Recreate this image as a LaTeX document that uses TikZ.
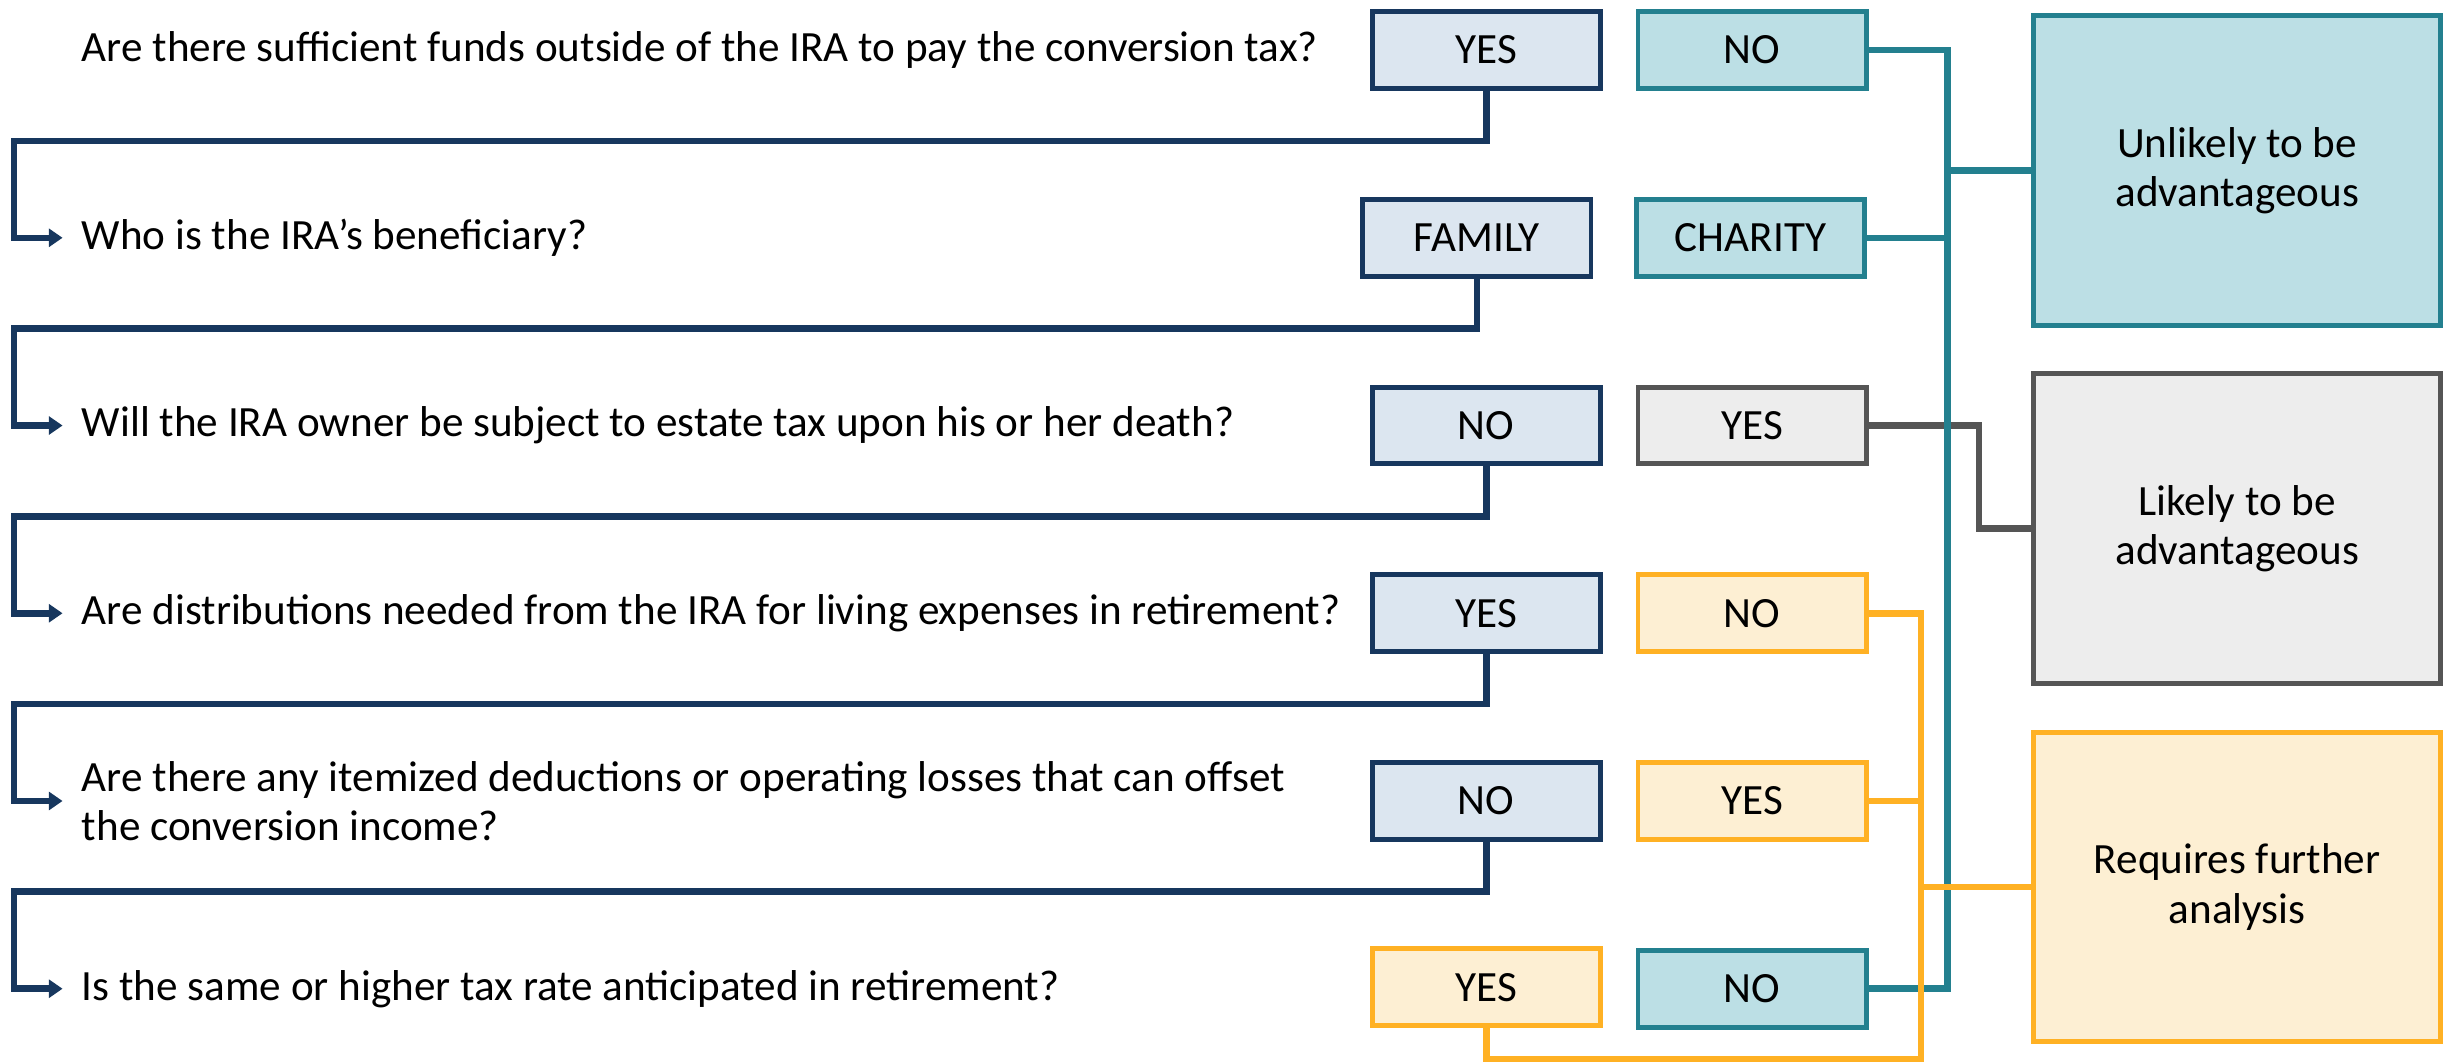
\documentclass[tikz,border=0pt]{standalone}
\usepackage{fontspec}
\setmainfont{Carlito}
\usetikzlibrary{arrows.meta}

\definecolor{navy}{HTML}{17375E}
\definecolor{navyfill}{HTML}{DCE6F0}
\definecolor{tealline}{HTML}{23808F}
\definecolor{tealfill}{HTML}{BCDFE5}
\definecolor{greyline}{HTML}{555555}
\definecolor{greyfill}{HTML}{EDEDED}
\definecolor{amber}{HTML}{FFB124}
\definecolor{amberfill}{HTML}{FDEFD3}

\tikzset{
  txt/.style={font=\fontsize{15.7}{18}\selectfont},
  question/.style={txt, anchor=west, align=left, inner xsep=0.24cm, inner ysep=0pt},
  answer/.style={txt, draw, line width=1.8pt, minimum width=2.92cm, minimum height=0.98cm, inner sep=0pt},
  keep/.style={answer, draw=navy, fill=navyfill},
  nogo/.style={answer, draw=tealline, fill=tealfill},
  go/.style={answer, draw=greyline, fill=greyfill},
  maybe/.style={answer, draw=amber, fill=amberfill},
  outcome/.style={txt, draw, line width=1.8pt, minimum width=5.2cm, minimum height=3.96cm, align=center},
  flow/.style={line width=2.4pt},
}

\begin{document}
\begin{tikzpicture}[x=0.02cm, y=-0.02cm]
  \useasboundingbox (0,0) rectangle (1568,680);

  % questions
  \node[question] (q1) at (40,32) {Are there sufficient funds outside of the IRA to pay the conversion tax?};
  \node[question] (q2) at (40,152) {Who is the IRA’s beneficiary?};
  \node[question] (q3) at (40,272) {Will the IRA owner be subject to estate tax upon his or her death?};
  \node[question] (q4) at (40,392) {Are distributions needed from the IRA for living expenses in retirement?};
  \node[question] (q5) at (40,512) {Are there any itemized deductions or operating losses that can offset\\the conversion income?};
  \node[question] (q6) at (40,632) {Is the same or higher tax rate anticipated in retirement?};

  % answers
  \node[keep] (a1) at (950,32) {YES};
  \node[nogo] (b1) at (1120,32) {NO};
  \node[keep] (a2) at (944,152) {FAMILY};
  \node[nogo] (b2) at (1119,152) {CHARITY};
  \node[keep] (a3) at (950,272) {NO};
  \node[go] (b3) at (1120,272) {YES};
  \node[keep] (a4) at (950,392) {YES};
  \node[maybe] (b4) at (1120,392) {NO};
  \node[keep] (a5) at (950,512) {NO};
  \node[maybe] (b5) at (1120,512) {YES};
  \node[maybe] (a6) at (950,631) {YES};
  \node[nogo] (b6) at (1120,632) {NO};

  % outcomes
  \node[outcome, draw=tealline, fill=tealfill] (unlikely) at (1430,109) {Unlikely to be\\advantageous};
  \node[outcome, draw=greyline, fill=greyfill] (likely) at (1430,338) {Likely to be\\advantageous};
  \node[outcome, draw=amber, fill=amberfill] (further) at (1430,567) {Requires further\\analysis};

  % next question
  \foreach \a/\q/\y in {a1/q2/90, a2/q3/210, a3/q4/330, a4/q5/450, a5/q6/570}
    \draw[flow, navy, -{Triangle[length=5pt, width=6.5pt]}] (\a.south) |- (9,\y) |- (\q.west);

  % to outcomes
  \coordinate (gbus) at (1265,338);
  \coordinate (tbus) at (1245,109);
  \coordinate (obus) at (1228,567);
  \coordinate (obot) at (1228,677);

  \draw[flow, greyline] (b3.east) -| (gbus) -- (likely.west);
  \draw[flow, tealline] (b1.east) -| (tbus) |- (b6.east);
  \draw[flow, tealline] (b2.east) -- (tbus |- b2.east);
  \draw[flow, tealline] (tbus) -- (unlikely.west);
  \draw[flow, amber] (b4.east) -| (obot) -| (a6.south);
  \draw[flow, amber] (b5.east) -- (obus |- b5.east);
  \draw[flow, amber] (obus) -- (further.west);
\end{tikzpicture}
\end{document}
